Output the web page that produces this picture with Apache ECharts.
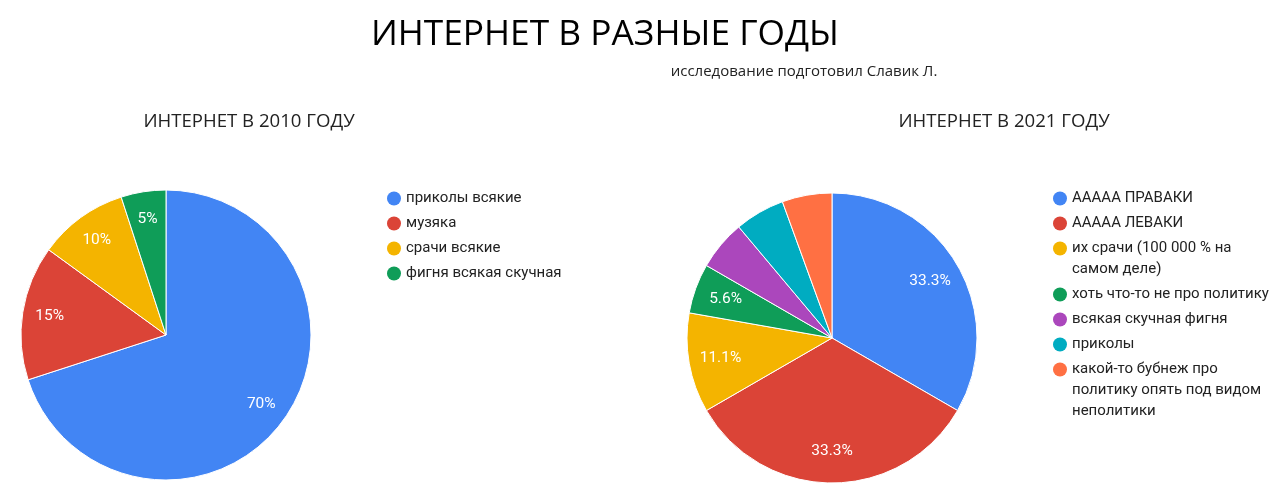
<!DOCTYPE html>
<html>
<head>
<meta charset="utf-8">
<script src="https://cdn.jsdelivr.net/npm/echarts@6/dist/echarts.min.js"></script>
<style>
    html, body { margin: 0; padding: 0; background: #fff; }
    #chart { width: 1280px; height: 503px; }
</style>
</head>
<body>
<div id="chart"></div>
<script>
// данные
var colors = ['#4285F4', '#DB4437', '#F4B400', '#0F9D58', '#AB47BC', '#00ACC1', '#FF7043'];
var names2010 = ['приколы всякие', 'музяка', 'срачи всякие', 'фигня всякая скучная'];
var values2010 = [70, 15, 10, 5];
var names2021 = [
    'АААAA ПРАВАКИ',
    'АААAA ЛЕВАКИ',
    'их срачи (100 000 % на самом деле)',
    'хоть что-то не про политику',
    'всякая скучная фигня',
    'приколы',
    'какой-то бубнеж про политику опять под видом неполитики'
];
var values2021 = [6, 6, 2, 1, 1, 1, 1];

var centers = [[166, 335], [832, 338]];
var legendFontSize = 15;

var chart = echarts.init(document.getElementById('chart'));

// перенос строк легенды по ширине
var ctx = document.createElement('canvas').getContext('2d');
ctx.font = legendFontSize + 'px Roboto';
function wrap(text, maxWidth) {
    var words = text.split(' ');
    var lines = [];
    var line = '';
    for (var i = 0; i < words.length; i++) {
        var test = line ? line + ' ' + words[i] : words[i];
        if (line && ctx.measureText(test).width > maxWidth) {
            lines.push(line);
            line = words[i];
        } else {
            line = test;
        }
    }
    lines.push(line);
    return lines;
}

function sum(arr) {
    var s = 0;
    for (var i = 0; i < arr.length; i++) s += arr[i];
    return s;
}

// легенда: кружок через rich text, чтобы он стоял у первой строки
function makeLegend(idx, names, left, maxWidth) {
    var rich = {
        t: { fontSize: legendFontSize, fontFamily: 'Roboto', color: '#222', lineHeight: 21, padding: [0, 0, 0, 5] },
        s: { width: 14, height: 14 }
    };
    for (var i = 0; i < names.length; i++) {
        rich['d' + i] = { width: 14, height: 14, borderRadius: 7, backgroundColor: colors[i] };
    }
    return {
        seriesIndex: idx,
        data: names,
        orient: 'vertical',
        left: left,
        top: 188,
        padding: 0,
        itemGap: 4,
        itemWidth: 0,
        itemHeight: 0,
        icon: 'circle',
        textStyle: { rich: rich, lineHeight: 21 },
        formatter: function (name) {
            var i = names.indexOf(name);
            var lines = wrap(name, maxWidth);
            var out = '{d' + i + '|}{t|' + lines[0] + '}';
            for (var j = 1; j < lines.length; j++) {
                out += '\n{s|}{t|' + lines[j] + '}';
            }
            return out;
        }
    };
}

function pieLabelLayout(params) {
    var c = centers[params.seriesIndex];
    var r = params.labelRect;
    var k = params.seriesIndex === 0 ? 1.56 : 1.5;
    var lx = r.x + r.width / 2;
    var ly = r.y + r.height / 2;
    return {
        x: c[0] + (lx - c[0]) * k,
        y: c[1] + (ly - c[1]) * k,
        align: 'center',
        verticalAlign: 'middle'
    };
}

var total2010 = sum(values2010);
var total2021 = sum(values2021);

var data2010 = values2010.map(function (v, i) {
    return { name: names2010[i], value: v, itemStyle: { color: colors[i] } };
});
// у мелких кусков справа подписи не помещаются (кроме зелёного)
var data2021 = values2021.map(function (v, i) {
    return { name: names2021[i], value: v, itemStyle: { color: colors[i] }, label: { show: i < 4 } };
});

var pieLabel = {
    show: true,
    position: 'inside',
    color: '#fff',
    fontFamily: 'Roboto',
    fontSize: 15.5
};

var option = {
    animation: false,
    graphic: [
        {
            type: 'text', x: 605, y: 35,
            style: { text: 'ИНТЕРНЕТ В РАЗНЫЕ ГОДЫ', fill: '#000', fontFamily: 'Open Sans', fontSize: 35.3,
                align: 'center', verticalAlign: 'middle' }
        },
        {
            type: 'text', x: 804, y: 72,
            style: { text: 'исследование подготовил Славик Л.', fill: '#222', fontFamily: 'Open Sans', fontSize: 15,
                align: 'center', verticalAlign: 'middle' }
        },
        {
            type: 'text', x: 249, y: 122,
            style: { text: 'ИНТЕРНЕТ В 2010 ГОДУ', fill: '#222', fontFamily: 'Open Sans', fontSize: 18.6,
                align: 'center', verticalAlign: 'middle' }
        },
        {
            type: 'text', x: 1004, y: 122,
            style: { text: 'ИНТЕРНЕТ В 2021 ГОДУ', fill: '#222', fontFamily: 'Open Sans', fontSize: 18.6,
                align: 'center', verticalAlign: 'middle' }
        }
    ],
    legend: [
        makeLegend(0, names2010, 381, 300),
        makeLegend(1, names2021, 1047, 200)
    ],
    series: [
        {
            name: 'ИНТЕРНЕТ В 2010 ГОДУ',
            type: 'pie',
            center: centers[0],
            radius: 145,
            startAngle: 90,
            clockwise: true,
            avoidLabelOverlap: false,
            itemStyle: { borderColor: '#fff', borderWidth: 1 },
            label: Object.assign({
                formatter: function (p) {
                    return (p.value / total2010 * 100).toFixed(0) + '%';
                }
            }, pieLabel),
            labelLayout: pieLabelLayout,
            emphasis: { scale: false },
            data: data2010
        },
        {
            name: 'ИНТЕРНЕТ В 2021 ГОДУ',
            type: 'pie',
            center: centers[1],
            radius: 145,
            startAngle: 90,
            clockwise: true,
            avoidLabelOverlap: false,
            itemStyle: { borderColor: '#fff', borderWidth: 1 },
            label: Object.assign({
                formatter: function (p) {
                    return (p.value / total2021 * 100).toFixed(1) + '%';
                }
            }, pieLabel),
            labelLayout: pieLabelLayout,
            emphasis: { scale: false },
            data: data2021
        }
    ]
};
chart.setOption(option);
</script>
</body>
</html>
